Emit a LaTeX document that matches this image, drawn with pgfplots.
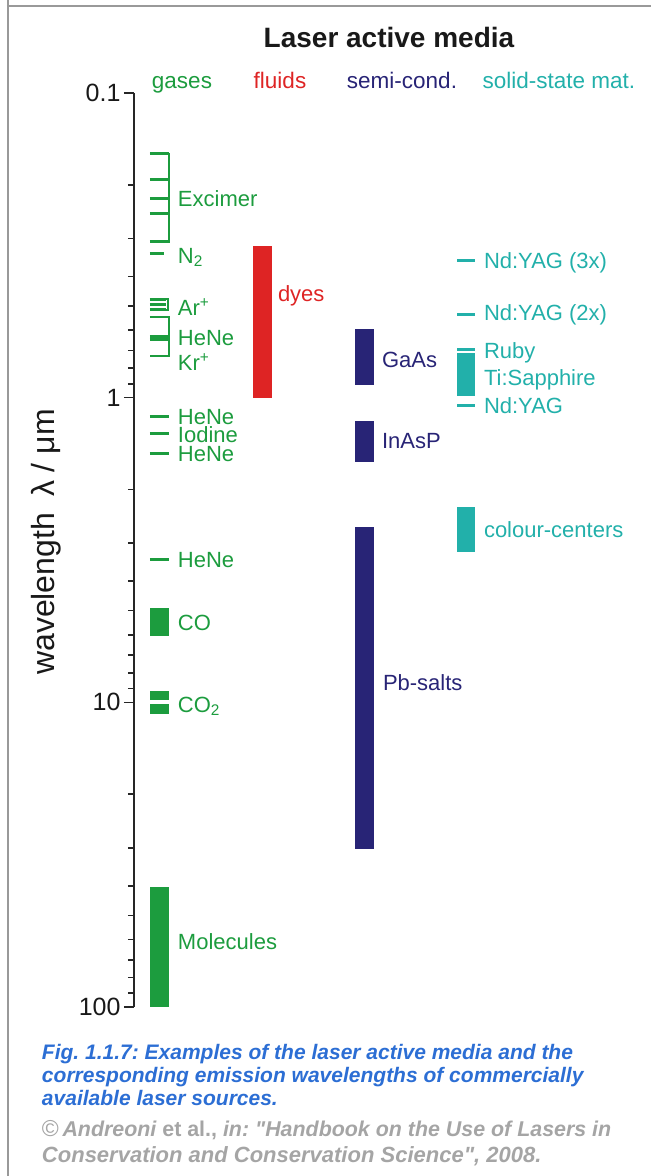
\documentclass[border=0pt]{standalone}
\usepackage{pgfplots}
\pgfplotsset{compat=1.18}
\usepackage{fontspec}
\setmainfont{Liberation Sans}
\definecolor{cgas}{RGB}{28,156,62}
\definecolor{cfluid}{RGB}{222,36,36}
\definecolor{csemi}{RGB}{40,36,118}
\definecolor{csolid}{RGB}{34,176,170}
\definecolor{ccap}{RGB}{44,110,212}
\definecolor{cgray}{RGB}{165,165,165}
\newcommand\fs[1]{\fontsize{#1}{#1}\selectfont}
\frenchspacing
\begin{document}
\begin{tikzpicture}
% page frame in pixel units
\begin{scope}[x=1pt, y=-1pt, shift={(-134pt,93pt)}]
\useasboundingbox (0,0) rectangle (651,1176);
\draw[gray!80, line width=2pt] (8,0) -- (8,1176);
\draw[gray!80, line width=2pt] (7,6) -- (651,6);
\end{scope}
\begin{axis}[
  at={(0,0)}, anchor=north west,
  scale only axis, width=517pt, height=914pt,
  xmin=134, xmax=651, ymin=0.1, ymax=100,
  ymode=log, y dir=reverse,
  axis y line=left, axis x line=none,
  axis line style={-, line width=2pt, black!85},
  ytick={0.1,1,10,100},
  yticklabels={0.1,1,10,100},
  minor ytick={0.2,0.3,0.4,0.5,0.6,0.7,0.8,0.9,2,3,4,5,6,7,8,9,20,30,40,50,60,70,80,90},
  tick align=outside,
  major tick length=10pt, minor tick length=6pt,
  every tick/.style={line width=1.6pt, black!85},
  yticklabel style={font=\fs{25}, black!90},
  clip=false,
  gasl/.style={cgas, line width=3pt},
  gasb/.style={cgas, line width=2pt},
]
% ---- gases: Excimer (bracket) ----
\addplot[gasb] coordinates {(150,0.158) (169,0.158) (169,0.308) (150,0.308)};
\addplot[gasl] coordinates {(150,0.158) (169,0.158)};
\addplot[gasl] coordinates {(150,0.193) (169,0.193)};
\addplot[gasl] coordinates {(150,0.222) (169,0.222)};
\addplot[gasl] coordinates {(150,0.248) (169,0.248)};
\addplot[gasl] coordinates {(150,0.308) (169,0.308)};
% N2
\addplot[gasl] coordinates {(150,0.337) (164,0.337)};
% Ar+
\addplot[gasb] coordinates {(150,0.476) (168,0.476) (168,0.515) (150,0.515)};
\addplot[gasl] coordinates {(150,0.476) (166,0.476)};
\addplot[gasl] coordinates {(150,0.496) (166,0.496)};
\addplot[gasl] coordinates {(150,0.515) (166,0.515)};
% HeNe / Kr+
\addplot[gasb] coordinates {(150,0.543) (169,0.543) (169,0.731) (150,0.731)};
\addplot[gasl] coordinates {(150,0.628) (169,0.628)};
\addplot[gasl] coordinates {(150,0.645) (169,0.645)};
% HeNe, Iodine, HeNe
\addplot[gasl] coordinates {(150,1.152) (169,1.152)};
\addplot[gasl] coordinates {(150,1.315) (169,1.315)};
\addplot[gasl] coordinates {(150,1.523) (169,1.523)};
% HeNe 3.39
\addplot[gasl] coordinates {(150,3.39) (169,3.39)};
% CO
\addplot[fill=cgas, draw=none] coordinates {(150,4.9) (169,4.9) (169,6.06) (150,6.06)} --cycle;
% CO2
\addplot[fill=cgas, draw=none] coordinates {(150,9.15) (169,9.15) (169,9.8) (150,9.8)} --cycle;
\addplot[fill=cgas, draw=none] coordinates {(150,10.15) (169,10.15) (169,10.9) (150,10.9)} --cycle;
% Molecules
\addplot[fill=cgas, draw=none] coordinates {(150,40.5) (169,40.5) (169,100) (150,100)} --cycle;
% ---- fluids: dyes ----
\addplot[fill=cfluid, draw=none] coordinates {(253,0.317) (272,0.317) (272,1.0) (253,1.0)} --cycle;
% ---- semiconductors ----
\addplot[fill=csemi, draw=none] coordinates {(355,0.594) (374,0.594) (374,0.906) (355,0.906)} --cycle;
\addplot[fill=csemi, draw=none] coordinates {(355,1.19) (374,1.19) (374,1.62) (355,1.62)} --cycle;
\addplot[fill=csemi, draw=none] coordinates {(355,2.66) (374,2.66) (374,30.3) (355,30.3)} --cycle;
% ---- solid-state ----
\addplot[csolid, line width=3pt] coordinates {(457,0.355) (475,0.355)};
\addplot[csolid, line width=3pt] coordinates {(457,0.532) (475,0.532)};
\addplot[csolid, line width=3pt] coordinates {(457,0.694) (475,0.694)};
\addplot[fill=csolid, draw=none] coordinates {(457,0.715) (475,0.715) (475,0.99) (457,0.99)} --cycle;
\addplot[csolid, line width=3pt] coordinates {(457,1.064) (475,1.064)};
\addplot[fill=csolid, draw=none] coordinates {(457,2.29) (475,2.29) (475,3.22) (457,3.22)} --cycle;
\end{axis}
% ---- texts, pixel coordinates ----
\begin{scope}[x=1pt, y=-1pt, shift={(-134pt,93pt)}, every node/.style={inner sep=0pt, outer sep=0pt}]
\node[anchor=base, font=\bfseries\fs{28}, black!90] at (389,47) {Laser active media};
\node[anchor=base, font=\fs{22.5}, cgas]   at (182,88) {gases};
\node[anchor=base, font=\fs{22.5}, cfluid] at (280,88) {fluids};
\node[anchor=base, font=\fs{22.5}, csemi]  at (402,88) {semi-cond.};
\node[anchor=base, font=\fs{22.5}, csolid] at (559,88) {solid-state mat.};
% gases labels
\begin{scope}[every node/.append style={anchor=base west, font=\fs{22}, text=cgas}]
\node at (178,206) {Excimer};
\node at (178,263) {N\textsubscript{2}};
\node at (178,315) {Ar\textsuperscript{+}};
\node at (178,345) {HeNe};
\node at (178,370) {Kr\textsuperscript{+}};
\node at (178,424.5) {HeNe};
\node at (178,442) {Iodine};
\node at (178,461.5) {HeNe};
\node at (178,567) {HeNe};
\node at (178,630) {CO};
\node at (178,712) {CO\textsubscript{2}};
\node at (178,949) {Molecules};
\end{scope}
\node[anchor=base west, font=\fs{22}, text=cfluid] at (278,301) {dyes};
\begin{scope}[every node/.append style={anchor=base west, font=\fs{22}, text=csemi}]
\node at (382,367) {GaAs};
\node at (382,448) {InAsP};
\node at (383,690) {Pb-salts};
\end{scope}
\begin{scope}[every node/.append style={anchor=base west, font=\fs{22}, text=csolid}]
\node at (484,268) {Nd:YAG (3x)};
\node at (484,320) {Nd:YAG (2x)};
\node at (484,358) {Ruby};
\node at (484,385) {Ti:Sapphire};
\node at (484,413) {Nd:YAG};
\node at (484,537) {colour-centers};
\end{scope}
% y label
\node[rotate=90, font=\fs{32}, black!90] at (46,542) {wavelength\enspace λ / μm};
% caption
\begin{scope}[every node/.append style={anchor=base west, font=\bfseries\itshape\fs{21}, text=ccap}]
\node at (42,1059) {Fig. 1.1.7: Examples of the laser active media and the};
\node at (42,1082) {corresponding emission wavelengths of commercially};
\node at (42,1105) {available laser sources.};
\end{scope}
\begin{scope}[every node/.append style={anchor=base west, font=\bfseries\fs{22}, text=cgray}]
\node[font=\bfseries\fs{21.4}] at (42,1136) {{\fontsize{23}{23}\selectfont\mdseries ©}\,\itshape Andreoni \upshape et al., \itshape in: \textquotedbl Handbook on the Use of Lasers in};
\node at (42,1162) {\itshape Conservation and Conservation Science\textquotedbl, 2008.};
\end{scope}
\end{scope}
\end{tikzpicture}
\end{document}
